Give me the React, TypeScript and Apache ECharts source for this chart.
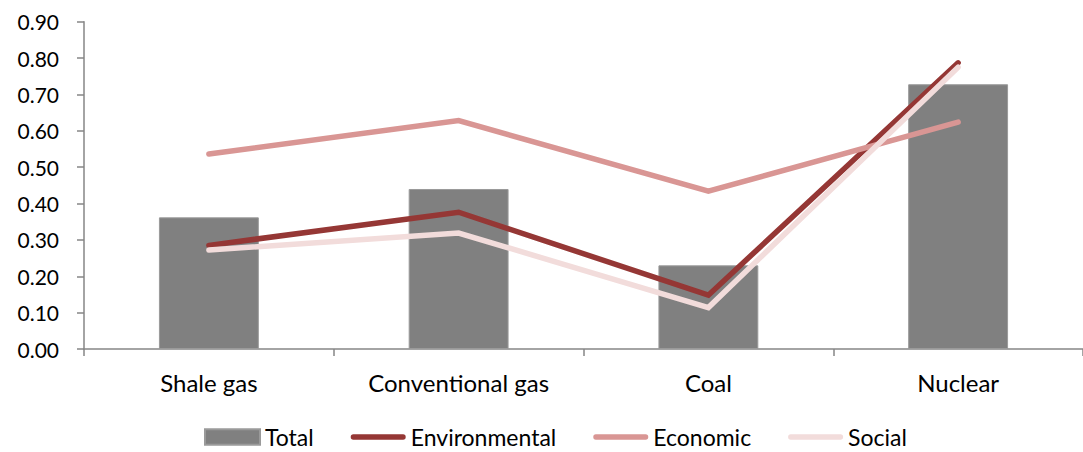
import React, { useEffect, useRef } from "react";
import * as echarts from "echarts";

// Energy sources on the category axis
const categories = ["Shale gas", "Conventional gas", "Coal", "Nuclear"];

// Scores per dimension
const totalValues = [0.362, 0.44, 0.23, 0.728];
const environmentalValues = [0.285, 0.376, 0.148, 0.787];
const economicValues = [0.536, 0.628, 0.434, 0.624];
const socialValues = [0.272, 0.319, 0.114, 0.775];

const FONT = "Lato, 'Open Sans', sans-serif";

// Rounded bar used as the legend icon of the line series
const LINE_ICON = "path://M2.75,0 L54.25,0 A2.75,2.75 0 0 1 54.25,5.5 L2.75,5.5 A2.75,2.75 0 0 1 2.75,0 Z";

export default function App() {
  const ref = useRef<HTMLDivElement>(null);

  useEffect(() => {
    if (!ref.current) return;
    const chart = echarts.init(ref.current, undefined, { renderer: "svg" });
    const lineSeries = (name: string, data: number[], color: string) => ({
      name,
      type: "line",
      data,
      symbol: "none",
      lineStyle: { color, width: 5.5, cap: "round", join: "miter" },
      itemStyle: { color },
      z: 3,
    });
    chart.setOption({
      animation: false,
      textStyle: { fontFamily: FONT },
      grid: { left: 84, right: -5, top: 21.7, bottom: 103, containLabel: false },
      legend: {
        left: 204,
        top: 425.5,
        padding: 0,
        itemGap: 37,
        itemWidth: 55,
        itemHeight: 15.5,
        symbolKeepAspect: true,
        textStyle: { fontFamily: FONT, fontSize: 23, lineHeight: 20, color: "#000" },
        data: [
          { name: "Total", icon: "rect" },
          { name: "Environmental", icon: LINE_ICON },
          { name: "Economic", icon: LINE_ICON },
          { name: "Social", icon: LINE_ICON },
        ],
      },
      xAxis: {
        type: "category",
        data: categories,
        boundaryGap: true,
        axisLine: { lineStyle: { color: "#868686", width: 1.5 } },
        axisTick: { show: true, length: 7, lineStyle: { color: "#868686", width: 1.5 } },
        axisLabel: { color: "#000", fontSize: 24, fontFamily: FONT, margin: 21 },
      },
      yAxis: {
        type: "value",
        min: 0,
        max: 0.9,
        interval: 0.1,
        splitLine: { show: false },
        axisLine: { show: true, lineStyle: { color: "#868686", width: 1.5 } },
        axisTick: { show: true, length: 7, lineStyle: { color: "#868686", width: 1.5 } },
        axisLabel: {
          color: "#000",
          fontSize: 21,
          fontFamily: FONT,
          margin: 25,
          formatter: (v: number) => v.toFixed(2),
        },
      },
      series: [
        {
          name: "Total",
          type: "bar",
          data: totalValues,
          barWidth: "40%",
          itemStyle: { color: "#808080", borderColor: "#9a9a9a", borderWidth: 1 },
          z: 2,
        },
        lineSeries("Environmental", environmentalValues, "#953735"),
        lineSeries("Economic", economicValues, "#D99694"),
        lineSeries("Social", socialValues, "#F2DCDB"),
      ],
    });
    return () => chart.dispose();
  }, []);

  return (
    <div
      ref={ref}
      style={{ position: "fixed", left: 0, top: 0, width: 1083, height: 452, background: "#fff" }}
    />
  );
}
